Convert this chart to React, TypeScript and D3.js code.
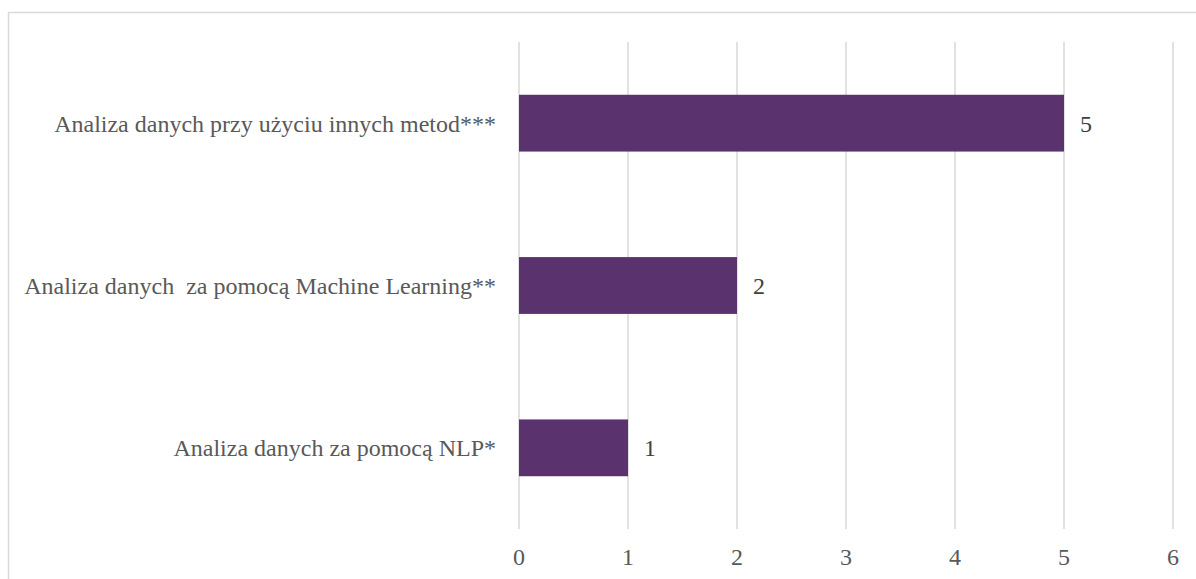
import React from "react";
import * as d3 from "d3";

const categories = [
  "Analiza danych przy użyciu innych metod***",
  "Analiza danych  za pomocą Machine Learning**",
  "Analiza danych za pomocą NLP*",
];
const values = [5, 2, 1];
const xTicks = [0, 1, 2, 3, 4, 5, 6];

export default function App() {
  const W = 1196, H = 579;
  const x = d3.scaleLinear().domain([0, 6]).range([519, 1173]);
  const y = d3.scaleBand().domain(categories).range([42, 529]).paddingInner(0.65).paddingOuter(0.325);
  const font = "Liberation Serif";
  return (
    <svg width={W} height={H} style={{ position: "absolute", left: 0, top: 0 }}>
      <rect x={0} y={0} width={W} height={H} fill="#fff" />
      <rect x={8.5} y={12.5} width={1300} height={700} fill="none" stroke="#d9d9d9" strokeWidth={1.5} />
      {xTicks.map((t) => (
        <line key={t} x1={x(t)} x2={x(t)} y1={42} y2={529} stroke="#d9d9d9" strokeWidth={1.5} />
      ))}
      {categories.map((c, i) => (
        <g key={c}>
          <rect x={x(0)} y={y(c)} width={x(values[i]) - x(0)} height={y.bandwidth()} fill="#5a336e" />
          <text x={x(values[i]) + 16} y={y(c)! + y.bandwidth() / 2} dy="0.35em" fontFamily={font} fontSize={24} fill="#404040">
            {values[i]}
          </text>
          <text x={496} y={y(c)! + y.bandwidth() / 2} dy="0.35em" textAnchor="end" fontFamily={font} fontSize={24} fill="#595959" style={{ whiteSpace: "pre" }}>
            {c}
          </text>
        </g>
      ))}
      {xTicks.map((t) => (
        <text key={t} x={x(t)} y={557} dy="0.35em" textAnchor="middle" fontFamily={font} fontSize={24} fill="#595959">
          {t}
        </text>
      ))}
    </svg>
  );
}
